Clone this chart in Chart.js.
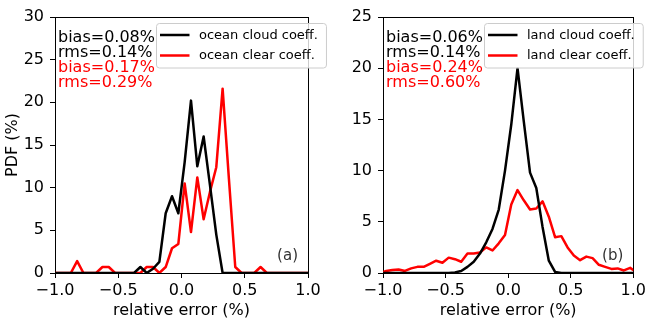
<!DOCTYPE html>
<html>
<head>
<meta charset="utf-8">
<script src="https://cdn.jsdelivr.net/npm/chart.js@4/dist/chart.umd.min.js"></script>
<style>
  body { margin: 0; background: #fff; }
  #wrap { position: relative; width: 649px; height: 321px; }
  .panel { position: absolute; top: 0; }
</style>
</head>
<body>
<div id="wrap">
  <div class="panel" style="left:0"><canvas id="oceanChart" width="330" height="321"></canvas></div>
  <div class="panel" style="left:330px"><canvas id="landChart" width="319" height="321"></canvas></div>
</div>
<script>
// bin centres of the relative error histogram (outer bins fall just outside the axis range)
const binCenters = [
  -1.025,
  -0.975, -0.925, -0.875, -0.825, -0.775, -0.725, -0.675, -0.625, -0.575, -0.525,
  -0.475, -0.425, -0.375, -0.325, -0.275, -0.225, -0.175, -0.125, -0.075, -0.025,
   0.025,  0.075,  0.125,  0.175,  0.225,  0.275,  0.325,  0.375,  0.425,  0.475,
   0.525,  0.575,  0.625,  0.675,  0.725,  0.775,  0.825,  0.875,  0.925,  0.975,
   1.025
];

// PDF (%) values
const oceanCloud = [
  0,
  0, 0, 0, 0, 0, 0, 0, 0, 0, 0,
  0, 0, 0, 0.7, 0, 0.5, 1.3, 7.0, 9.0, 7.0,
  13.0, 20.2, 12.5, 16.0, 10.3, 4.5, 0, 0, 0, 0,
  0, 0, 0, 0, 0, 0, 0, 0, 0, 0,
  0
];
const oceanClear = [
  0,
  0, 0, 0, 1.4, 0, 0, 0, 0.7, 0.7, 0,
  0, 0, 0, 0, 0.7, 0.7, 0, 0.7, 2.9, 3.4,
  10.5, 4.8, 11.2, 6.3, 9.5, 12.4, 21.6, 11.0, 0.7, 0,
  0, 0, 0.7, 0, 0, 0, 0, 0, 0, 0,
  0
];
const landCloud = [
  0,
  0, 0, 0, 0, 0, 0, 0, 0, 0, 0,
  0, 0.05, 0.2, 0.6, 1.1, 1.9, 3.0, 4.3, 6.2, 10.0,
  14.5, 20.0, 14.8, 9.8, 8.3, 4.5, 1.2, 0.1, 0, 0,
  0, 0, 0, 0, 0, 0, 0, 0, 0, 0,
  0
];
const landClear = [
  0.0,
  0.2, 0.3, 0.35, 0.2, 0.45, 0.6, 0.6, 0.9, 1.2, 1.0,
  1.5, 1.35, 1.1, 1.9, 1.9, 2.0, 2.5, 2.2, 2.9, 3.7,
  6.7, 8.1, 7.1, 6.2, 6.3, 7.0, 5.5, 3.5, 3.6, 2.5,
  1.7, 1.25, 1.6, 1.45, 0.8, 0.6, 0.4, 0.45, 0.25, 0.5,
  0.1
];

const oceanStats = ['bias=0.08%', 'rms=0.14%', 'bias=0.17%', 'rms=0.29%'];
const landStats = ['bias=0.06%', 'rms=0.14%', 'bias=0.24%', 'rms=0.60%'];
const statColors = ['#000000', '#000000', '#ff0000', '#ff0000'];

Chart.defaults.font.family = 'DejaVu Sans';
Chart.defaults.color = '#000';

function toPoints(values) {
  return binCenters.map((x, i) => ({ x: x, y: values[i] }));
}

function fmtTick(v) {
  const s = Math.abs(v).toFixed(1);
  return v < 0 ? '\u2212' + s : s;
}

// frame, stats text, legend box and panel tag
const panelDecor = {
  id: 'panelDecor',
  beforeDatasetsDraw(chart) {
    const { ctx, chartArea: a } = chart;
    ctx.save();
    ctx.strokeStyle = '#000';
    ctx.lineWidth = 1;
    ctx.strokeRect(Math.round(a.left) + 0.5, Math.round(a.top) + 0.5,
                   Math.round(a.right - a.left), Math.round(a.bottom - a.top));
    ctx.restore();
  },
  afterDraw(chart, args, opts) {
    const { ctx, chartArea: a } = chart;
    ctx.save();

    // stats
    ctx.font = '16px "DejaVu Sans"';
    ctx.textAlign = 'left';
    ctx.textBaseline = 'alphabetic';
    opts.stats.forEach((t, i) => {
      ctx.fillStyle = statColors[i];
      ctx.fillText(t, a.left + 3, a.top + 25.3 + i * 15);
    });

    // legend
    ctx.font = '13px "DejaVu Sans"';
    const sets = chart.data.datasets;
    const maxW = Math.max(...sets.map(d => ctx.measureText(d.label).width));
    const bx = a.left + 101.5, by = a.top + 6.5;
    const bw = 42.5 + maxW + 8.5, bh = 44.5;
    ctx.fillStyle = 'rgba(255,255,255,0.8)';
    ctx.strokeStyle = '#cccccc';
    ctx.lineWidth = 1;
    ctx.beginPath();
    ctx.roundRect(bx, by, bw, bh, 3);
    ctx.fill();
    ctx.stroke();
    sets.forEach((d, i) => {
      const ry = by + 11.5 + i * 20.5;
      ctx.strokeStyle = d.borderColor;
      ctx.lineWidth = 2.5;
      ctx.beginPath();
      ctx.moveTo(bx + 3.5, ry);
      ctx.lineTo(bx + 33, ry);
      ctx.stroke();
      ctx.fillStyle = '#000';
      ctx.textBaseline = 'middle';
      ctx.fillText(d.label, bx + 42.5, ry + 0.5);
    });

    // panel tag
    ctx.font = '15px "DejaVu Sans"';
    ctx.fillStyle = '#333';
    ctx.textAlign = 'right';
    ctx.textBaseline = 'alphabetic';
    ctx.fillText(opts.tag, a.right - 10, a.bottom - 13);
    ctx.restore();
  }
};

function makeChart(id, cloud, clear, labels, yMax, axisW, padRight, stats, tag, showYTitle) {
  const ctx = document.getElementById(id).getContext('2d');
  return new Chart(ctx, {
    type: 'line',
    data: {
      datasets: [
        { label: labels[0], data: toPoints(cloud), borderColor: '#000000' },
        { label: labels[1], data: toPoints(clear), borderColor: '#ff0000' }
      ]
    },
    options: {
      responsive: false,
      animation: false,
      layout: { padding: { top: 17, right: padRight, left: 0, bottom: 0 } },
      elements: {
        line: { borderWidth: 2.5, tension: 0, borderJoinStyle: 'round', fill: false },
        point: { radius: 0 }
      },
      plugins: {
        legend: { display: false },
        tooltip: { enabled: false },
        panelDecor: { stats: stats, tag: tag }
      },
      scales: {
        x: {
          type: 'linear',
          min: -1, max: 1,
          afterFit: s => { s.height = 48; },
          border: { display: false },
          grid: { drawOnChartArea: false, drawTicks: true, tickLength: 5, color: '#000' },
          ticks: { stepSize: 0.5, font: { size: 16 }, padding: 3, callback: fmtTick, maxRotation: 0 },
          title: { display: true, text: 'relative error (%)', font: { size: 16 }, padding: { top: 0, bottom: 1 } }
        },
        y: {
          type: 'linear',
          min: 0, max: yMax,
          afterFit: s => { s.width = axisW; },
          border: { display: false },
          grid: { drawOnChartArea: false, drawTicks: true, tickLength: 5, color: '#000' },
          ticks: { stepSize: 5, font: { size: 16 }, padding: 6 },
          title: { display: showYTitle, text: 'PDF (%)', font: { size: 16 }, padding: { top: 3, bottom: 0 } }
        }
      }
    },
    plugins: [panelDecor]
  });
}

makeChart('oceanChart', oceanCloud, oceanClear, ['ocean cloud coeff.', 'ocean clear coeff.'],
          30, 55, 22, oceanStats, '(a)', true);
makeChart('landChart', landCloud, landClear, ['land cloud coeff.', 'land clear coeff.'],
          25, 53, 12, landStats, '(b)', false);
</script>
</body>
</html>
